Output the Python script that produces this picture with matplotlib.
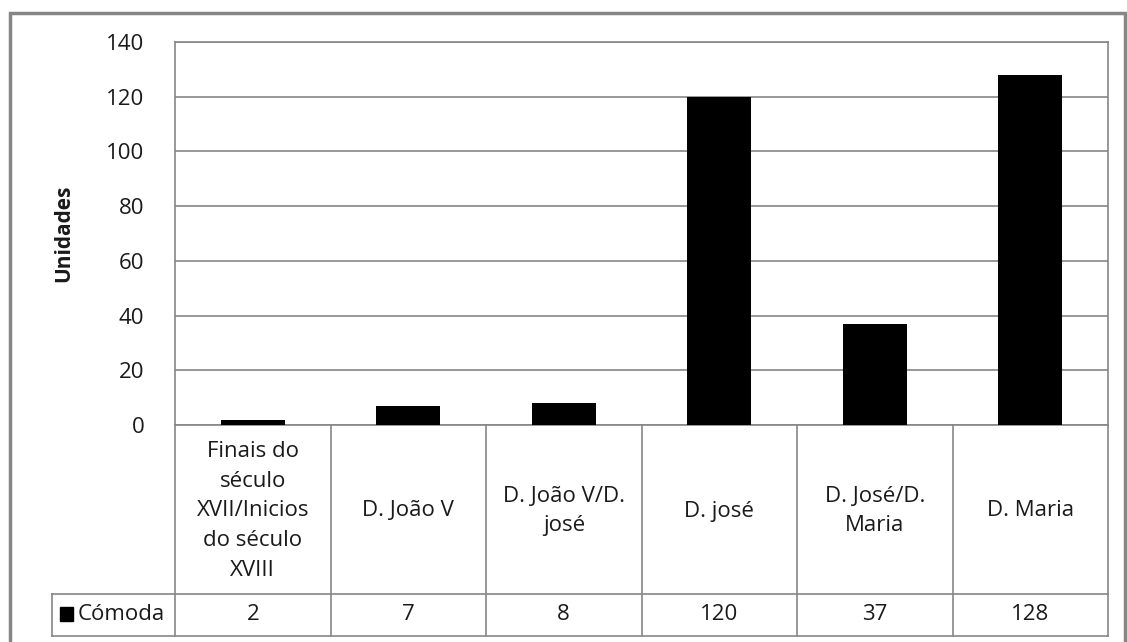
import matplotlib.pyplot as plt
import matplotlib.transforms as mtransforms
from matplotlib.patches import Rectangle

plt.rcParams['font.family'] = ['Open Sans', 'DejaVu Sans']

categories = ['Finais do\nséculo\nXVII/Inicios\ndo século\nXVIII',
              'D. João V', 'D. João V/D.\njosé', 'D. josé',
              'D. José/D.\nMaria', 'D. Maria']
values = [2, 7, 8, 120, 37, 128]
series_name = 'Cómoda'
yticks = [0, 20, 40, 60, 80, 100, 120, 140]

W, H = 1127, 642
fig = plt.figure(figsize=(W / 100, H / 100), dpi=100)

FS = 16
TC = '#1a1a1a'

# plot area in pixels
px_l, px_r, px_t, px_b = 175, 1108, 42, 425
ax = fig.add_axes([px_l / W, (H - px_b) / H, (px_r - px_l) / W, (px_b - px_t) / H])

x = list(range(len(values)))
ax.bar(x, values, width=0.41, color='black', zorder=3)
ax.set_xlim(-0.5, len(values) - 0.5)
ax.set_ylim(0, 140)
ax.set_yticks(yticks)
ax.set_yticklabels([str(t) for t in yticks], fontsize=FS, color=TC)
ax.set_xticks([])
ax.tick_params(axis='y', length=0, pad=22)
ax.grid(axis='y', color='#868686', linewidth=1.2, zorder=0)
for s in ax.spines.values():
    s.set_color('#868686')
    s.set_linewidth(1.2)
ax.set_ylabel('Unidades', fontsize=FS - 1, fontweight='bold', labelpad=23, color=TC)

# data table under the plot
axh = px_b - px_t
def yfrac(py):
    return -(py - px_b) / axh

trans = mtransforms.blended_transform_factory(ax.transData, ax.transAxes)
row1 = yfrac(594)
row2 = yfrac(636)
unit = (px_r - px_l) / len(values)
left_cell = -0.5 - (px_l - 52) / unit
lc = '#868686'
lw = 1.2

for i in range(len(values) + 1):
    xb = i - 0.5
    ax.plot([xb, xb], [0, row2], color=lc, lw=lw, transform=trans, clip_on=False)
ax.plot([left_cell, len(values) - 0.5], [row1, row1], color=lc, lw=lw, transform=trans, clip_on=False)
ax.plot([left_cell, len(values) - 0.5], [row2, row2], color=lc, lw=lw, transform=trans, clip_on=False)
ax.plot([left_cell, left_cell], [row1, row2], color=lc, lw=lw, transform=trans, clip_on=False)

for i, (c, v) in enumerate(zip(categories, values)):
    ax.text(i, yfrac(511), c, transform=trans, ha='center', va='center',
            fontsize=FS, linespacing=1.55, color=TC)
    ax.text(i, (row1 + row2) / 2, str(v), transform=trans, ha='center', va='center',
            fontsize=FS, color=TC)

# legend key + series name
key_x = -0.5 - (px_l - 60) / unit
ax.add_patch(Rectangle((key_x, yfrac(621)), 13 / unit, (621 - 607) / axh,
                       transform=trans, color='black', clip_on=False))
ax.text(-0.5 - (px_l - 78) / unit, (row1 + row2) / 2, series_name, transform=trans,
        ha='left', va='center', fontsize=FS, color=TC)

# outer chart border
fig.patches.append(Rectangle((9.5 / W, -0.01), (1125 - 9.5) / W, (H - 13) / H + 0.01,
                             transform=fig.transFigure, fill=False,
                             edgecolor='#868686', linewidth=2.5))

fig.savefig('out.png', dpi=100)
